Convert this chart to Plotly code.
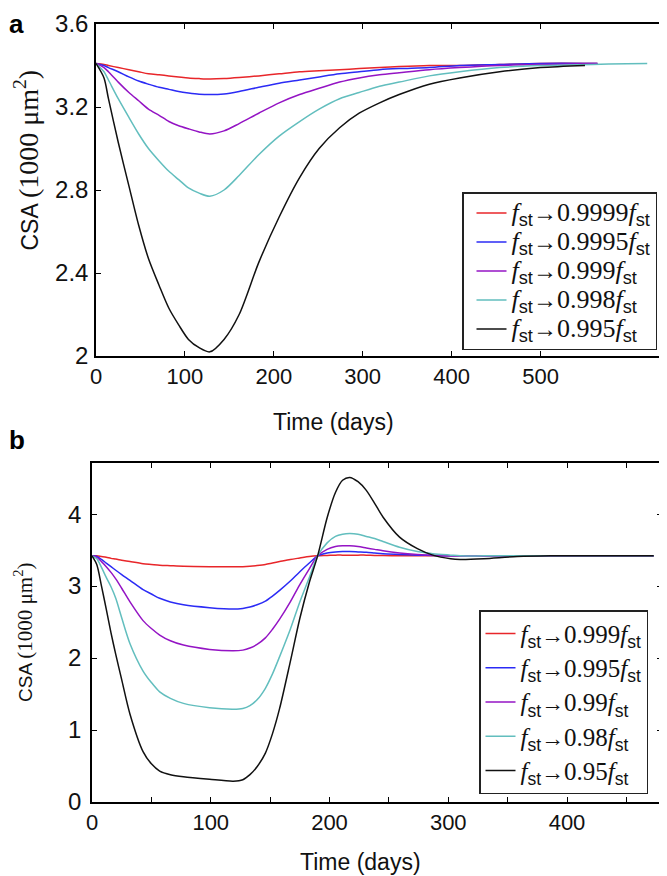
import plotly.graph_objects as go

# ---------------- Panel a data ----------------
top_days = [0, 9, 14, 25, 37, 48, 59, 71, 82, 93, 104, 116, 128, 144, 161, 183, 206,
            229, 251, 274, 296, 319, 341, 375, 409, 454, 500]
top_end_days = [564, 564, 564, 620, 550]
top_labels = ["0.9999", "0.9995", "0.999", "0.998", "0.995"]
top_red = [3.41, 3.405, 3.40, 3.39, 3.38, 3.37, 3.36, 3.355, 3.35, 3.345, 3.34, 3.337, 3.335,
           3.337, 3.342, 3.35, 3.36, 3.37, 3.375, 3.38, 3.385, 3.39, 3.395, 3.40, 3.40, 3.405, 3.41, 3.41]
top_blue = [3.41, 3.40, 3.39, 3.37, 3.345, 3.325, 3.31, 3.295, 3.285, 3.275, 3.268, 3.262, 3.26,
            3.263, 3.275, 3.295, 3.315, 3.33, 3.345, 3.36, 3.37, 3.38, 3.385, 3.39, 3.40, 3.405, 3.41, 3.41]
top_purple = [3.41, 3.39, 3.37, 3.32, 3.27, 3.23, 3.19, 3.16, 3.13, 3.11, 3.095, 3.08, 3.07,
              3.085, 3.12, 3.17, 3.22, 3.26, 3.29, 3.32, 3.34, 3.355, 3.365, 3.38, 3.39, 3.40, 3.405, 3.41]
top_cyan = [3.41, 3.37, 3.33, 3.24, 3.15, 3.07, 3.00, 2.94, 2.89, 2.85, 2.81, 2.785, 2.77,
            2.80, 2.87, 2.97, 3.06, 3.13, 3.19, 3.24, 3.27, 3.30, 3.32, 3.35, 3.37, 3.39, 3.40, 3.41]
top_black = [3.41, 3.34, 3.24, 3.03, 2.82, 2.63, 2.47, 2.34, 2.23, 2.15, 2.08, 2.04, 2.02,
             2.08, 2.20, 2.45, 2.67, 2.86, 3.00, 3.10, 3.17, 3.22, 3.26, 3.31, 3.34, 3.37, 3.39, 3.40]

# ---------------- Panel b data ----------------
bot_days = [0, 4, 8, 12, 16, 20, 25, 32, 43, 50, 57, 66, 77, 99, 119, 127, 133, 139, 146, 152, 158,
            167, 175, 183, 190, 198, 205, 211, 217, 224, 231, 238, 245, 259, 274, 287, 302,
            310, 330, 358, 386, 420, 473]
bot_labels = ["0.999", "0.995", "0.99", "0.98", "0.95"]
bot_red = [3.42, 3.42, 3.41, 3.40, 3.385, 3.375, 3.36, 3.34, 3.31, 3.30, 3.29, 3.283, 3.275, 3.27, 3.27,
           3.27, 3.275, 3.285, 3.30, 3.32, 3.34, 3.37, 3.39, 3.41, 3.42, 3.425, 3.43, 3.43,
           3.43, 3.43, 3.43, 3.425, 3.425, 3.42, 3.42, 3.42, 3.42, 3.42, 3.42, 3.42, 3.42, 3.42, 3.42]
bot_blue = [3.42, 3.41, 3.37, 3.32, 3.27, 3.22, 3.16, 3.08, 2.95, 2.89, 2.83, 2.78, 2.74, 2.70, 2.68,
            2.69, 2.71, 2.74, 2.79, 2.86, 2.94, 3.07, 3.20, 3.32, 3.42, 3.46, 3.475, 3.48,
            3.48, 3.475, 3.47, 3.46, 3.45, 3.44, 3.43, 3.425, 3.42, 3.42, 3.42, 3.42, 3.42, 3.42, 3.42]
bot_purple = [3.42, 3.40, 3.34, 3.27, 3.19, 3.10, 2.97, 2.78, 2.52, 2.41, 2.32, 2.24, 2.18, 2.12, 2.10,
              2.11, 2.14, 2.19, 2.28, 2.40, 2.54, 2.78, 3.02, 3.24, 3.42, 3.51, 3.55, 3.56,
              3.56, 3.55, 3.53, 3.51, 3.49, 3.46, 3.44, 3.43, 3.42, 3.42, 3.42, 3.42, 3.42, 3.42, 3.42]
bot_cyan = [3.42, 3.38, 3.26, 3.12, 2.99, 2.83, 2.56, 2.20, 1.82, 1.66, 1.53, 1.44, 1.37, 1.31, 1.29,
            1.30, 1.34, 1.42, 1.58, 1.78, 2.02, 2.40, 2.78, 3.12, 3.42, 3.60, 3.69, 3.72,
            3.73, 3.72, 3.69, 3.66, 3.62, 3.54, 3.48, 3.45, 3.43, 3.42, 3.42, 3.42, 3.42, 3.42, 3.42]
bot_black = [3.42, 3.30, 3.00, 2.68, 2.35, 2.05, 1.70, 1.22, 0.70, 0.53, 0.43, 0.38, 0.35, 0.315, 0.29,
             0.31, 0.38, 0.49, 0.68, 0.95, 1.30, 1.95, 2.55, 3.05, 3.42, 3.95, 4.30, 4.47,
             4.51, 4.45, 4.33, 4.15, 3.96, 3.68, 3.52, 3.43, 3.38, 3.37, 3.38, 3.41, 3.42, 3.42, 3.42]

colors = ["#e8262a", "#2b2bf5", "#9414c4", "#62bebe", "#111111"]

W, H = 667, 876
OFF = 8  # page body margin: figure pixel = screen pixel - OFF
SANS = "Liberation Sans, Arial, sans-serif"
SERIF = "Liberation Serif, Times New Roman, serif"


def px(sx):
    return (sx - OFF) / W


def py(sy):
    return 1 - (sy - OFF) / H


def lname(k, size):
    st = f"<sub><span style='font-family:{SANS}'>st</span></sub>"
    arrow = f"<span style='font-family:{SANS};font-size:{int(size*0.95)}px'>→</span>"
    return f"<span style='font-size:{size}px'><i>f</i>{st}{arrow}{k}<i>f</i>{st}</span>"


fig = go.Figure()

top_series = [top_red, top_blue, top_purple, top_cyan, top_black]
for i, vals in enumerate(top_series):
    fig.add_trace(go.Scatter(
        x=top_days + [top_end_days[i]], y=vals, mode="lines",
        line=dict(color=colors[i], width=1.5, shape="spline", smoothing=0.8),
        name=lname(top_labels[i], 26), xaxis="x", yaxis="y", legend="legend"))

bot_series = [bot_red, bot_blue, bot_purple, bot_cyan, bot_black]
for i, vals in enumerate(bot_series):
    fig.add_trace(go.Scatter(
        x=bot_days, y=vals, mode="lines",
        line=dict(color=colors[i], width=1.5, shape="spline", smoothing=0.8),
        name=lname(bot_labels[i], 25), xaxis="x2", yaxis="y2", legend="legend2"))

axis_common = dict(showline=True, linecolor="black", linewidth=1.5, mirror="ticks",
                   ticks="inside", ticklen=5, tickcolor="black", tickwidth=1,
                   showgrid=False, zeroline=False, automargin=False)
xfont = dict(family=SANS, size=22, color="#111")
yfont = dict(family=SANS, size=24, color="#111")

fig.update_layout(
    width=W, height=H, margin=dict(l=0, r=0, t=0, b=0),
    paper_bgcolor="white", plot_bgcolor="white",
    xaxis=dict(domain=[px(96), px(665)], range=[0, 640], anchor="y",
               tickvals=[0, 100, 200, 300, 400, 500], tickfont=xfont, **axis_common),
    yaxis=dict(domain=[py(356), py(24)], range=[2, 3.6], anchor="x",
               tickvals=[2, 2.4, 2.8, 3.2, 3.6], ticktext=["2", "2.4", "2.8", "3.2", "3.6"],
               tickfont=yfont, ticklabelstandoff=1, **axis_common),
    xaxis2=dict(domain=[px(92), px(662)], range=[0, 480], anchor="y2",
                tickvals=[0, 50, 100, 150, 200, 250, 300, 350, 400, 450],
                ticktext=["0", "", "100", "", "200", "", "300", "", "400", ""],
                tickfont=xfont, **axis_common),
    yaxis2=dict(domain=[py(802), py(463)], range=[0, 4.71], anchor="x2",
                tickvals=[0, 1, 2, 3, 4], tickfont=yfont, ticklabelstandoff=4, **axis_common),
    legend=dict(x=px(657), xanchor="right", y=py(192), yanchor="top",
                bordercolor="#222", borderwidth=1.5, bgcolor="white", indentation=8,
                font=dict(family=SERIF, size=20, color="#111"), itemwidth=30),
    legend2=dict(x=px(648), xanchor="right", y=py(610), yanchor="top",
                 bordercolor="#222", borderwidth=1.5, bgcolor="white",
                 font=dict(family=SERIF, size=24, color="#111"), itemwidth=30),
    showlegend=True,
)

ann = [
    dict(text="<b>a</b>", x=0, xanchor="left", y=1, yanchor="top", borderpad=0,
         font=dict(family=SANS, size=26, color="black")),
    dict(text="<b>b</b>", x=0, xanchor="left", y=py(440), yanchor="middle", borderpad=0,
         font=dict(family=SANS, size=26, color="black")),
    dict(text="Time (days)", x=px(333), y=py(422), font=dict(family=SANS, size=23, color="#111")),
    dict(text="Time (days)", x=px(360), y=py(862), font=dict(family=SANS, size=23, color="#111")),
    dict(text=f"CSA <span style='font-family:{SERIF};font-size:28px'>(1000 μm<sup>2</sup>)</span>",
         x=0, xanchor="left", y=py(160), textangle=-90, borderpad=0,
         font=dict(family=SANS, size=23, color="#111")),
    dict(text=f"CSA <span style='font-family:{SERIF};font-size:21px'>(1000 μm<sup>2</sup>)</span>",
         x=px(23), y=py(632), textangle=-90, font=dict(family=SANS, size=19, color="#111")),
]
for a in ann:
    a.setdefault("xanchor", "center")
    a.setdefault("yanchor", "middle")
    a.update(xref="paper", yref="paper", showarrow=False)
fig.update_layout(annotations=ann)

fig.write_html("out.html")
